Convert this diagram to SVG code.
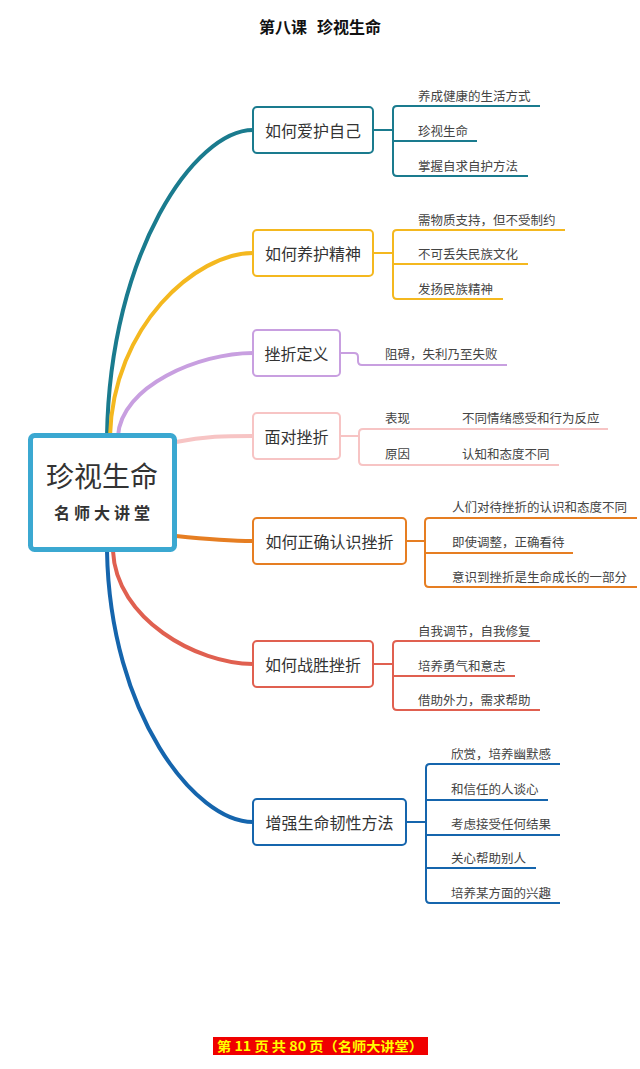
<svg xmlns="http://www.w3.org/2000/svg" width="640" height="1069" viewBox="0 0 640 1069">
<style>
text{font-family:"Noto Sans CJK SC","Microsoft YaHei",sans-serif;fill:#333}
.title{font-size:16px;font-weight:bold;fill:#111}
.node rect{fill:#fff;stroke-width:2}
.node text{font-size:16px;text-anchor:middle;dominant-baseline:central}
.sub{font-size:12.5px;fill:#444}
.curve{fill:none;stroke-width:4;stroke-linecap:round}
.br{fill:none;stroke-width:2}
</style>
<rect width="640" height="1069" fill="#fff"/>
<text class="title" x="259" y="33">第八课</text>
<text class="title" x="317" y="33">珍视生命</text>

<g id="connectors">
<path class="curve" stroke="#1a7b8e" d="M107,436 C110,252 195,130 253,130"/>
<path class="curve" stroke="#f4b81f" d="M110,436 C113,326 196,253 253,253"/>
<path class="curve" stroke="#c89fe0" d="M118,436 C121,386 199,353 253,353"/>
<path class="curve" stroke="#f7c4c4" d="M176,442 C205,436 225,436 253,436"/>
<path class="curve" stroke="#e67e22" d="M176,536 C205,539 225,541 253,541"/>
<path class="curve" stroke="#e06050" d="M113,551 C116,619 197,664 253,664"/>
<path class="curve" stroke="#1565ad" d="M107,551 C110,714 195,822 253,822"/>

<path class="br" stroke="#1a7b8e" d="M373,130 H393 M540,106 H397 Q393,106 393,110 V172 Q393,176 397,176 H528 M393,141 H477"/>
<path class="br" stroke="#f4b81f" d="M373,253 H393 M565,230 H397 Q393,230 393,234 V295 Q393,299 397,299 H503 M393,264 H528"/>
<path class="br" stroke="#c89fe0" d="M340,353 H354 Q358,353 358,357 V361 Q358,365 362,365 H507"/>
<path class="br" stroke="#f7c4c4" d="M340,436 H359 M608,429 H363 Q359,429 359,433 V461 Q359,465 363,465 H559"/>
<path class="br" stroke="#e67e22" d="M406,541 H425 M637,518 H429 Q425,518 425,522 V583 Q425,587 429,587 H637 M425,553 H573"/>
<path class="br" stroke="#e06050" d="M373,664 H393 M540,641 H397 Q393,641 393,645 V706 Q393,710 397,710 H540 M393,676 H515"/>
<path class="br" stroke="#1565ad" d="M406,822 H426 M560,764 H430 Q426,764 426,768 V899 Q426,903 430,903 H560 M426,800 H548 M426,835 H560 M426,868 H536"/>
</g>

<g id="center">
<rect x="30.5" y="435.5" width="144" height="114" rx="4" fill="#fff" stroke="#3ba8d1" stroke-width="5"/>
<text x="102" y="475" font-size="28" text-anchor="middle" dominant-baseline="central" fill="#333">珍视生命</text>
<text x="104" y="512" font-size="16" font-weight="bold" letter-spacing="4" text-anchor="middle" dominant-baseline="central" fill="#222">名师大讲堂</text>
</g>

<g id="n1" class="node"><rect x="253" y="107" width="120" height="46" rx="4" stroke="#1a7b8e"/><text x="313" y="130">如何爱护自己</text></g>
<g id="n2" class="node"><rect x="253" y="230" width="120" height="46" rx="4" stroke="#f4b81f"/><text x="313" y="253">如何养护精神</text></g>
<g id="n3" class="node"><rect x="253" y="330" width="87" height="46" rx="4" stroke="#c89fe0"/><text x="296.5" y="353">挫折定义</text></g>
<g id="n4" class="node"><rect x="253" y="413" width="87" height="46" rx="4" stroke="#f7c4c4"/><text x="296.5" y="436">面对挫折</text></g>
<g id="n5" class="node"><rect x="253" y="518" width="153" height="46" rx="4" stroke="#e67e22"/><text x="329.5" y="541">如何正确认识挫折</text></g>
<g id="n6" class="node"><rect x="253" y="641" width="120" height="46" rx="4" stroke="#e06050"/><text x="313" y="664">如何战胜挫折</text></g>
<g id="n7" class="node"><rect x="253" y="799" width="153" height="46" rx="4" stroke="#1565ad"/><text x="329.5" y="822">增强生命韧性方法</text></g>

<g id="s1">
<text class="sub" x="418" y="101">养成健康的生活方式</text>
<text class="sub" x="418" y="136">珍视生命</text>
<text class="sub" x="418" y="171">掌握自求自护方法</text>
</g>
<g id="s2">
<text class="sub" x="418" y="225">需物质支持，但不受制约</text>
<text class="sub" x="418" y="259">不可丢失民族文化</text>
<text class="sub" x="418" y="294">发扬民族精神</text>
</g>
<g id="s3">
<text class="sub" x="385" y="359">阻碍，失利乃至失败</text>
</g>
<g id="s4">
<text class="sub" x="385" y="423">表现</text>
<text class="sub" x="462" y="423">不同情绪感受和行为反应</text>
<text class="sub" x="385" y="459">原因</text>
<text class="sub" x="462" y="459">认知和态度不同</text>
</g>
<g id="s5">
<text class="sub" x="452" y="512">人们对待挫折的认识和态度不同</text>
<text class="sub" x="452" y="547">即使调整，正确看待</text>
<text class="sub" x="452" y="582">意识到挫折是生命成长的一部分</text>
</g>
<g id="s6">
<text class="sub" x="418" y="636">自我调节，自我修复</text>
<text class="sub" x="418" y="671">培养勇气和意志</text>
<text class="sub" x="418" y="705">借助外力，需求帮助</text>
</g>
<g id="s7">
<text class="sub" x="451" y="759">欣赏，培养幽默感</text>
<text class="sub" x="451" y="794">和信任的人谈心</text>
<text class="sub" x="451" y="829">考虑接受任何结果</text>
<text class="sub" x="451" y="863">关心帮助别人</text>
<text class="sub" x="451" y="898">培养某方面的兴趣</text>
</g>

<g id="footer">
<rect x="213" y="1037" width="215" height="18" fill="#f00000"/>
<text x="320" y="1051" font-size="13" font-weight="bold" text-anchor="middle" textLength="206" lengthAdjust="spacingAndGlyphs" style="fill:#ffff00">第 11 页 共 80 页（名师大讲堂）</text>
</g>
</svg>
